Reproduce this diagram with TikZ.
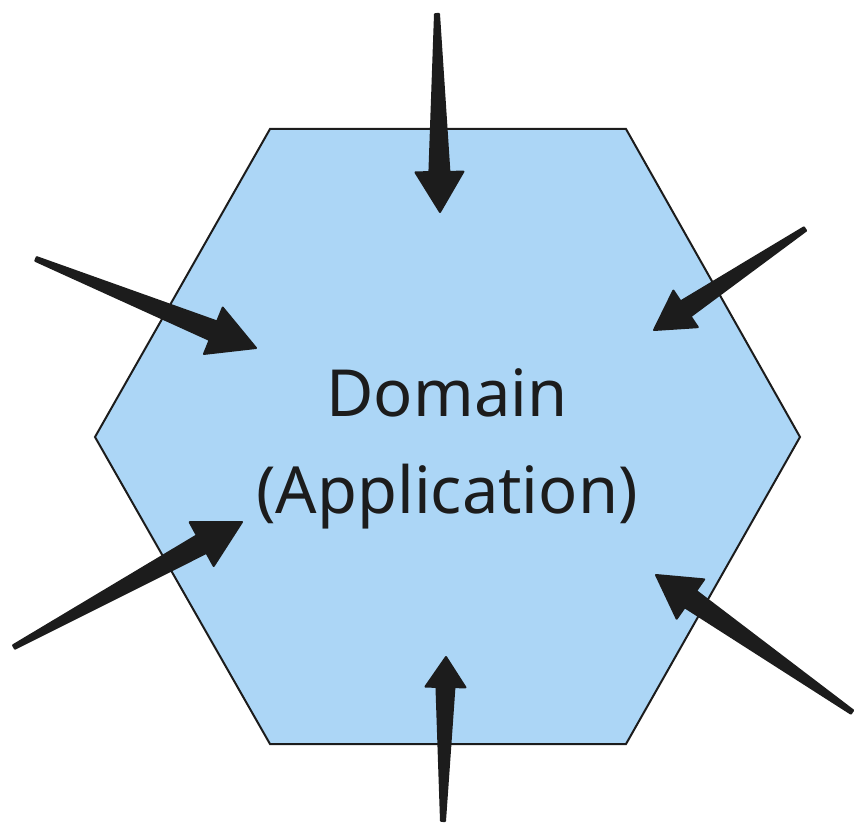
\documentclass[tikz,border=0pt]{standalone}
\usepackage{fontspec}
\setmainfont{Noto Sans}
\usetikzlibrary{calc}
\definecolor{hexfill}{HTML}{ACD6F6}
\definecolor{ink}{HTML}{1C1C1C}
\tikzset{
  hexshape/.style={fill=hexfill,draw=ink,line width=2pt,line join=miter},
  arrowfill/.style={fill=ink,draw=ink,line width=2pt,line join=round},
  labeltext/.style={align=center,text=ink,font=\fontsize{65}{97}\selectfont,inner sep=0pt}
}
% tail, tip, head length, head half width, shaft half width at head, tail half width
\newcommand\taperarrow[6]{%
  \path ($(#2)!#3!(#1)$) coordinate (hb);
  \filldraw[arrowfill]
    ($(#1)!#6!90:(#2)$) -- ($(hb)!#5!90:(#2)$) -- ($(hb)!#4!90:(#2)$) -- (#2)
    -- ($(hb)!#4!-90:(#2)$) -- ($(hb)!#5!-90:(#2)$) -- ($(#1)!#6!-90:(#2)$) -- cycle;}
\begin{document}
\begin{tikzpicture}[x=1pt,y=-1pt]
\useasboundingbox (0,0) rectangle (856,826);
% hexagon
\coordinate (h1) at (270,129);
\coordinate (h2) at (626,129);
\coordinate (h3) at (800,437);
\coordinate (h4) at (626,744);
\coordinate (h5) at (270,744);
\coordinate (h6) at (95,437);
\filldraw[hexshape] (h1) -- (h2) -- (h3) -- (h4) -- (h5) -- (h6) -- cycle;
\node[labeltext] (label) at (447,449) {Domain\\(Application)};
% arrows
\coordinate (t1) at (437,14);  \coordinate (p1) at (440,212);
\coordinate (t2) at (36,259);  \coordinate (p2) at (256,348);
\coordinate (t3) at (14,647);  \coordinate (p3) at (242,522);
\coordinate (t4) at (852,712); \coordinate (p4) at (656,575);
\coordinate (t5) at (443,821); \coordinate (p5) at (446,657);
\coordinate (t6) at (805,229); \coordinate (p6) at (654,330);
\taperarrow{t1}{p1}{40pt}{24pt}{10pt}{2pt}
\taperarrow{t2}{p2}{46pt}{25pt}{10pt}{2pt}
\taperarrow{t3}{p3}{46pt}{25pt}{10pt}{2pt}
\taperarrow{t4}{p4}{42pt}{24pt}{10pt}{2pt}
\taperarrow{t5}{p5}{30pt}{20pt}{9pt}{2pt}
\taperarrow{t6}{p6}{38pt}{22pt}{9pt}{2pt}
\end{tikzpicture}
\end{document}
